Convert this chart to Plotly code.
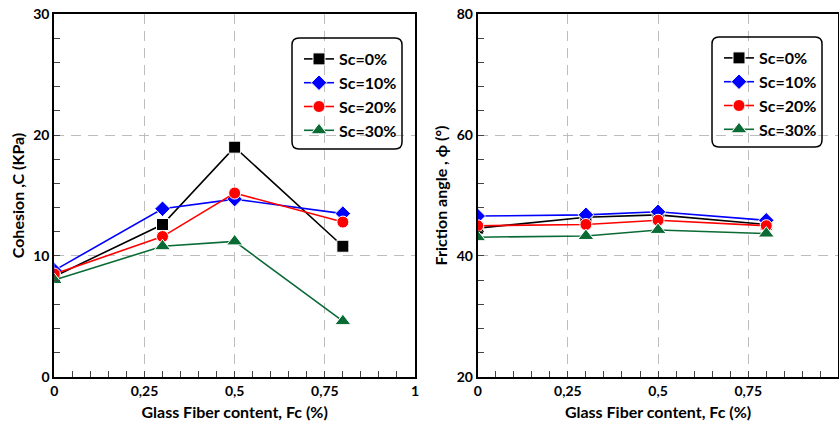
import plotly.graph_objects as go

# Glass fibre content (%) and the two measured strength parameters
fiber_content = [0, 0.3, 0.5, 0.8]
series_names = ["Sc=0%", "Sc=10%", "Sc=20%", "Sc=30%"]

cohesion_sc0 = [8.3, 12.6, 19.0, 10.8]
cohesion_sc10 = [8.8, 13.9, 14.7, 13.5]
cohesion_sc20 = [8.5, 11.6, 15.2, 12.8]
cohesion_sc30 = [8.0, 10.8, 11.2, 4.6]

friction_sc0 = [44.6, 46.4, 46.8, 45.2]
friction_sc10 = [46.6, 46.8, 47.3, 45.9]
friction_sc20 = [45.0, 45.2, 45.9, 45.0]
friction_sc30 = [43.1, 43.3, 44.3, 43.7]

x_tick_vals = [0, 0.25, 0.5, 0.75, 1]
x_tick_text = ["0", "0,25", "0,5", "0,75", "1"]

colors = ["#000000", "#0000ff", "#ff0000", "#0b6b35"]
symbols = ["square", "diamond", "circle", "triangle-up"]
sizes = [12, 12, 12, 14]

FONT = "Lato"
cohesion = [cohesion_sc0, cohesion_sc10, cohesion_sc20, cohesion_sc30]
friction = [friction_sc0, friction_sc10, friction_sc20, friction_sc30]

fig = go.Figure()

for i, name in enumerate(series_names):
    style = dict(
        mode="lines+markers",
        line=dict(color=colors[i], width=1.6),
        marker=dict(symbol=symbols[i], size=sizes[i], color=colors[i],
                    line=dict(color="#ffffff", width=1)),
        name=name,
    )
    fig.add_trace(go.Scatter(x=fiber_content, y=cohesion[i], xaxis="x", yaxis="y",
                             legend="legend", legendgroup=f"a{i}", **style))
    fig.add_trace(go.Scatter(x=fiber_content, y=friction[i], xaxis="x2", yaxis="y2",
                             legend="legend2", legendgroup=f"b{i}", **style))

W, H = 839, 421
left_dom = [54.3 / W, 415.0 / W]
right_dom = [477.7 / W, 838.4 / W]
y_dom = [1 - 376.7 / H, 1 - 14.3 / H]

tick_font = dict(family=FONT, size=14, color="#000000", weight="bold")
title_font = dict(family=FONT, size=16, color="#000000", weight="bold")
grid = dict(showgrid=True, gridcolor="#bdbdbd", gridwidth=1, griddash="10px,7px")


def x_axis(domain, anchor):
    return dict(domain=domain, anchor=anchor, range=[0, 1], automargin=False,
                tickmode="array", tickvals=x_tick_vals, ticktext=x_tick_text,
                ticks="inside", ticklen=6, tickcolor="#444444", tickwidth=1,
                minor=dict(dtick=0.05, tick0=0, ticks="inside", ticklen=6,
                           tickcolor="#444444", tickwidth=1, showgrid=False),
                showline=True, linecolor="#000000", linewidth=2, mirror=True,
                zeroline=False, tickfont=tick_font,
                title=dict(text="Glass Fiber content, Fc (%)", font=title_font, standoff=9),
                **grid)


def y_axis(domain, anchor, rng, dtick, minor, title):
    return dict(domain=domain, anchor=anchor, range=rng, dtick=dtick, tick0=rng[0],
                automargin=False,
                ticks="inside", ticklen=6, tickcolor="#444444", tickwidth=1,
                minor=dict(dtick=minor, tick0=rng[0], ticks="inside", ticklen=6,
                           tickcolor="#444444", tickwidth=1, showgrid=False),
                showline=True, linecolor="#000000", linewidth=2, mirror=True,
                zeroline=False, tickfont=tick_font,
                title=dict(text=title, font=title_font, standoff=5),
                **grid)


legend_style = dict(font=dict(family=FONT, size=16, color="#000000", weight="bold"),
                    bgcolor="rgba(0,0,0,0)", borderwidth=0, tracegroupgap=0,
                    xanchor="left", yanchor="top", itemsizing="trace")

fig.update_layout(
    width=W, height=H,
    margin=dict(l=0, r=0, t=0, b=0, autoexpand=False),
    paper_bgcolor="#ffffff", plot_bgcolor="#ffffff",
    xaxis=x_axis(left_dom, "y"),
    yaxis=y_axis(y_dom, "x", [0, 30], 10, 2, "Cohesion ,C (KPa)"),
    xaxis2=x_axis(right_dom, "y2"),
    yaxis2=y_axis(y_dom, "x2", [20, 80], 20, 4, "Friction angle , ϕ (°)"),
    legend=dict(x=299 / W, y=1 - 42 / H, **legend_style),
    legend2=dict(x=719 / W, y=1 - 41 / H, **legend_style),
    showlegend=True,
)


def rounded_box(x0, y0, x1, y1, r=7):
    # rounded rectangle in pixel units, converted to paper coordinates
    px = lambda v: v / W
    py = lambda v: 1 - v / H
    return (f"M {px(x0 + r)} {py(y0)} L {px(x1 - r)} {py(y0)} "
            f"Q {px(x1)} {py(y0)} {px(x1)} {py(y0 + r)} "
            f"L {px(x1)} {py(y1 - r)} Q {px(x1)} {py(y1)} {px(x1 - r)} {py(y1)} "
            f"L {px(x0 + r)} {py(y1)} Q {px(x0)} {py(y1)} {px(x0)} {py(y1 - r)} "
            f"L {px(x0)} {py(y0 + r)} Q {px(x0)} {py(y0)} {px(x0 + r)} {py(y0)} Z")


for box in [(292, 38, 402, 149), (712, 37, 822, 147)]:
    fig.add_shape(type="path", xref="paper", yref="paper", path=rounded_box(*box),
                  line=dict(color="#000000", width=1.5), fillcolor="rgba(0,0,0,0)",
                  layer="above")

fig.write_html("out.html")
